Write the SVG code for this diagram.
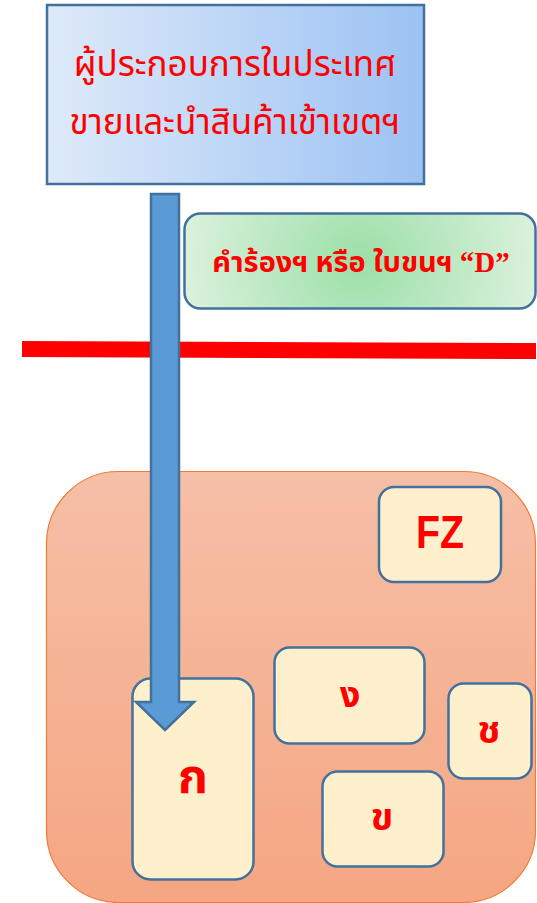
<svg xmlns="http://www.w3.org/2000/svg" width="537" height="903" viewBox="0 0 537 903">
<defs>
<linearGradient id="gTop" x1="0" y1="0" x2="1" y2="0">
<stop offset="0" stop-color="#DEEAF9"/>
<stop offset="1" stop-color="#9CC2F3"/>
</linearGradient>
<radialGradient id="gGreen" cx="0.5" cy="0.5" r="0.6" gradientTransform="translate(0.5 0.5) scale(1 3.6) translate(-0.5 -0.5)">
<stop offset="0" stop-color="#9CDFA8"/>
<stop offset="1" stop-color="#E6F5E6"/>
</radialGradient>
<linearGradient id="gZone" x1="0" y1="0" x2="0" y2="1">
<stop offset="0" stop-color="#F6BFA7"/>
<stop offset="1" stop-color="#F5A682"/>
</linearGradient>
<style>
.box{fill:#FFF0CD;stroke:#41719C;stroke-width:2.5}
.lbl{fill:#FF0000;font-family:"Liberation Serif","Noto Sans Thai","Noto Serif Thai",serif;font-weight:bold;text-anchor:middle}
.th{fill:#FF0000;font-family:"Noto Sans Thai","DejaVu Sans",sans-serif;font-size:35px;text-anchor:middle}
</style>
</defs>
<g id="top-node">
<rect x="47" y="5" width="377" height="179" fill="url(#gTop)" stroke="#41719C" stroke-width="2.5"/>
<text class="th" x="235" y="76">ผู้ประกอบการในประเทศ</text>
<text class="th" x="235" y="134">ขายและนำสินค้าเข้าเขตฯ</text>
</g>
<g id="doc-node">
<rect x="184.5" y="213.5" width="351" height="95" rx="16" fill="url(#gGreen)" stroke="#41719C" stroke-width="2.5"/>
<text class="lbl" x="361" y="272" font-size="29">คำร้องฯ หรือ ใบขนฯ “D”</text>
</g>
<g id="border-line">
<polygon points="22,341 536,343 536,359 22,357" fill="#FF0000"/>
</g>
<g id="zone">
<rect x="46.5" y="471.5" width="489" height="431" rx="72" fill="url(#gZone)" stroke="#ED7D31" stroke-width="1.2"/>
</g>
<g id="node-FZ">
<rect class="box" x="379" y="487" width="122" height="95" rx="15"/>
<text x="440" y="548" fill="#FF0000" font-family="'Liberation Sans',sans-serif" font-weight="bold" font-size="46" text-anchor="middle" textLength="48" lengthAdjust="spacingAndGlyphs">FZ</text>
</g>
<g id="node-ng">
<rect class="box" x="274.5" y="647.5" width="150" height="96" rx="15"/>
<text class="lbl" x="350" y="707" font-size="36">ง</text>
</g>
<g id="node-ko">
<rect class="box" x="132.5" y="678.5" width="121" height="201" rx="18"/>
<text x="193" y="793" fill="#FF0000" font-family="'Noto Sans Thai','DejaVu Sans',sans-serif" font-weight="bold" font-size="48" text-anchor="middle">ก</text>
</g>
<g id="node-cho">
<rect class="box" x="448.5" y="683.5" width="83" height="95" rx="15"/>
<text class="lbl" x="489" y="743" font-size="38">ช</text>
</g>
<g id="node-kho">
<rect class="box" x="322.5" y="771.5" width="121" height="95" rx="15"/>
<text class="lbl" x="382" y="830" font-size="38">ข</text>
</g>
<g id="connectors">
<path d="M151,194 L179,194 L179,702 L194,702 L165,730 L136,702 L151,702 Z" fill="#5B9BD5" stroke="#41719C" stroke-width="2.5" stroke-linejoin="miter"/>
</g>
</svg>
